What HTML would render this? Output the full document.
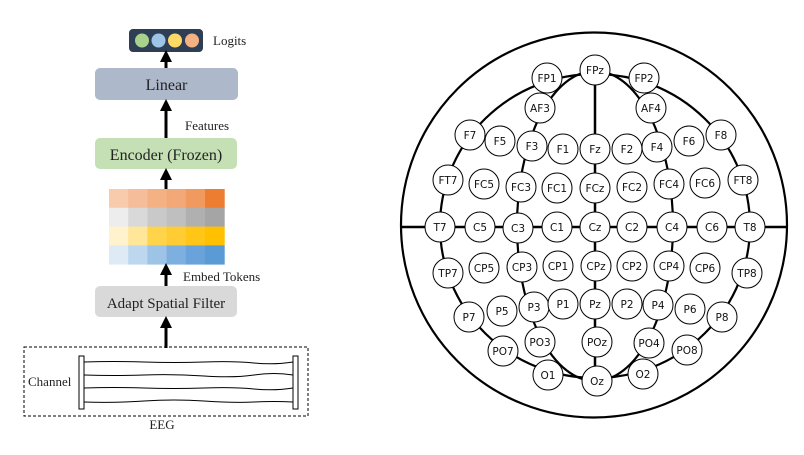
<!DOCTYPE html>
<html><head><meta charset="utf-8"><style>
body{margin:0;background:#fff}
svg{display:block}
.s{font-family:"Liberation Serif",serif;fill:#222}
.e{font-family:"DejaVu Sans","Liberation Sans",sans-serif;font-size:10.5px;fill:#111}
</style></head><body>
<svg id="svg" width="804" height="455" viewBox="0 0 804 455" xmlns="http://www.w3.org/2000/svg">
<defs><marker id="ah" markerWidth="4" markerHeight="4" refX="2" refY="2" orient="auto" markerUnits="strokeWidth"><path d="M0,0 L4,2 L0,4 z" fill="#000"/></marker></defs>
<g>
<rect x="129" y="29" width="74" height="23" rx="4" fill="#2e3e55"/>
<circle cx="142" cy="40.5" r="7" fill="#a9d18e"/>
<circle cx="158.5" cy="40.5" r="7" fill="#9dc3e6"/>
<circle cx="175" cy="40.5" r="7" fill="#ffd966"/>
<circle cx="192" cy="40.5" r="7" fill="#f4b183"/>
<text x="213" y="45" class="s" font-size="13">Logits</text>
<line x1="166" y1="68" x2="166" y2="56" stroke="#000" stroke-width="3" marker-end="url(#ah)"/>
<rect x="95" y="68" width="143" height="32" rx="5" fill="#adb9ca"/>
<text x="166.5" y="90" class="s" font-size="16" text-anchor="middle">Linear</text>
<line x1="166" y1="138" x2="166" y2="105" stroke="#000" stroke-width="3" marker-end="url(#ah)"/>
<text x="185" y="130" class="s" font-size="13">Features</text>
<rect x="95" y="138" width="142" height="31" rx="5" fill="#c5e0b4"/>
<text x="166" y="160" class="s" font-size="16" text-anchor="middle">Encoder (Frozen)</text>
<line x1="166" y1="189" x2="166" y2="174" stroke="#000" stroke-width="3" marker-end="url(#ah)"/>
<g id="grid"></g>
<line x1="166" y1="287" x2="166" y2="269" stroke="#000" stroke-width="3" marker-end="url(#ah)"/>
<text x="183" y="281" class="s" font-size="13">Embed Tokens</text>
<rect x="95" y="286" width="142" height="31" rx="5" fill="#d9d9d9"/>
<text x="166" y="308" class="s" font-size="15" text-anchor="middle">Adapt Spatial Filter</text>
<line x1="166" y1="348" x2="166" y2="322" stroke="#000" stroke-width="3" marker-end="url(#ah)"/>
<rect x="24" y="347" width="284" height="69" fill="none" stroke="#000" stroke-width="1" stroke-dasharray="3,2"/>
<rect x="79" y="356" width="5" height="53" fill="#fff" stroke="#000"/>
<rect x="293" y="356" width="5" height="53" fill="#fff" stroke="#000"/>
<path d="M84,362 q30,-1 60,0 t60,0 t50,1 t39,-1" fill="none" stroke="#000"/>
<path d="M84,375 q30,1 60,0 t60,1 t50,-1 t39,0" fill="none" stroke="#000"/>
<path d="M84,388 q30,-1 60,0 t60,0 t50,1 t39,-1" fill="none" stroke="#000"/>
<path d="M84,402 q30,1 60,-1 t60,0 t50,1 t39,0" fill="none" stroke="#000"/>
<text x="28" y="386" class="s" font-size="13">Channel</text>
<text x="162" y="429" class="s" font-size="13" text-anchor="middle">EEG</text>
</g>
<g>
<ellipse cx="594" cy="225" rx="193" ry="192.5" fill="none" stroke="#000" stroke-width="2.2"/>
<line x1="400" y1="227" x2="788" y2="227" stroke="#000" stroke-width="2.5"/>
<line x1="595" y1="70" x2="595" y2="381" stroke="#000" stroke-width="2.5"/>
<ellipse cx="595" cy="226" rx="155" ry="152" fill="none" stroke="#000" stroke-width="2.2"/>
<ellipse cx="595" cy="226" rx="78" ry="155" fill="none" stroke="#000" stroke-width="2.2"/>
<g id="el"></g>
</g>
</svg>
<script>
const gridColors=[["#f8cbad","#f5bd9a","#f4b183","#f3a877","#f19a5f","#ed7d31"],["#ededed","#d9d9d9","#c9c9c9","#bfbfbf","#b0b0b0","#a5a5a5"],["#fff2cc","#ffe699","#ffd34a","#ffcc33","#ffc618","#ffc000"],["#deebf7","#bdd7ee","#9dc3e6","#7eb0df","#6aa3dc","#5b9bd5"]];
const labels=["FPz","FP1","FP2","AF3","AF4","F7","F5","F3","F1","Fz","F2","F4","F6","F8","FT7","FC5","FC3","FC1","FCz","FC2","FC4","FC6","FT8","T7","C5","C3","C1","Cz","C2","C4","C6","T8","TP7","CP5","CP3","CP1","CPz","CP2","CP4","CP6","TP8","P7","P5","P3","P1","Pz","P2","P4","P6","P8","PO7","PO3","POz","PO4","PO8","O1","Oz","O2"];
const ex=[595,547,644,540,651,470,500,532,563,595,627,657,689,721,448,484,521,557,595,632,669,705,743,440,480,518,557,595,632,672,712,750,448,484,522,558,596,632,669,705,747,469,502,534,563,595,627,658,690,722,503,540,597,649,687,548,597,643];
const ey=[70,78,78,108,108,135,141,146,149,149,149,147,141,135,180,184,187,188,188,187,184,183,180,227,227,228,227,227,227,227,227,227,273,268,267,266,266,266,266,268,273,317,311,307,304,304,304,305,309,317,351,342,342,343,350,375,381,374];
const NS="http://www.w3.org/2000/svg";
const g=document.getElementById('grid');
gridColors.forEach((row,r)=>row.forEach((c,i)=>{
 const el=document.createElementNS(NS,'rect');
 el.setAttribute('x',109+i*19.2);el.setAttribute('y',189+r*18.8);
 el.setAttribute('width',19.7);el.setAttribute('height',19.2);el.setAttribute('fill',c);
 
 
 g.appendChild(el);
}));
const eg=document.getElementById('el');
labels.forEach((l,i)=>{
 const gg=document.createElementNS(NS,'g');
 
 
 const c=document.createElementNS(NS,'circle');
 c.setAttribute('cx',ex[i]);c.setAttribute('cy',ey[i]);c.setAttribute('r',15);
 c.setAttribute('fill','#fff');c.setAttribute('stroke','#000');c.setAttribute('stroke-width','1');
 const t=document.createElementNS(NS,'text');
 t.setAttribute('x',ex[i]);t.setAttribute('y',ey[i]+4);t.setAttribute('text-anchor','middle');t.setAttribute('class','e');
 t.textContent=l;
 gg.appendChild(c);gg.appendChild(t);eg.appendChild(gg);
});
</script>
</body></html>
